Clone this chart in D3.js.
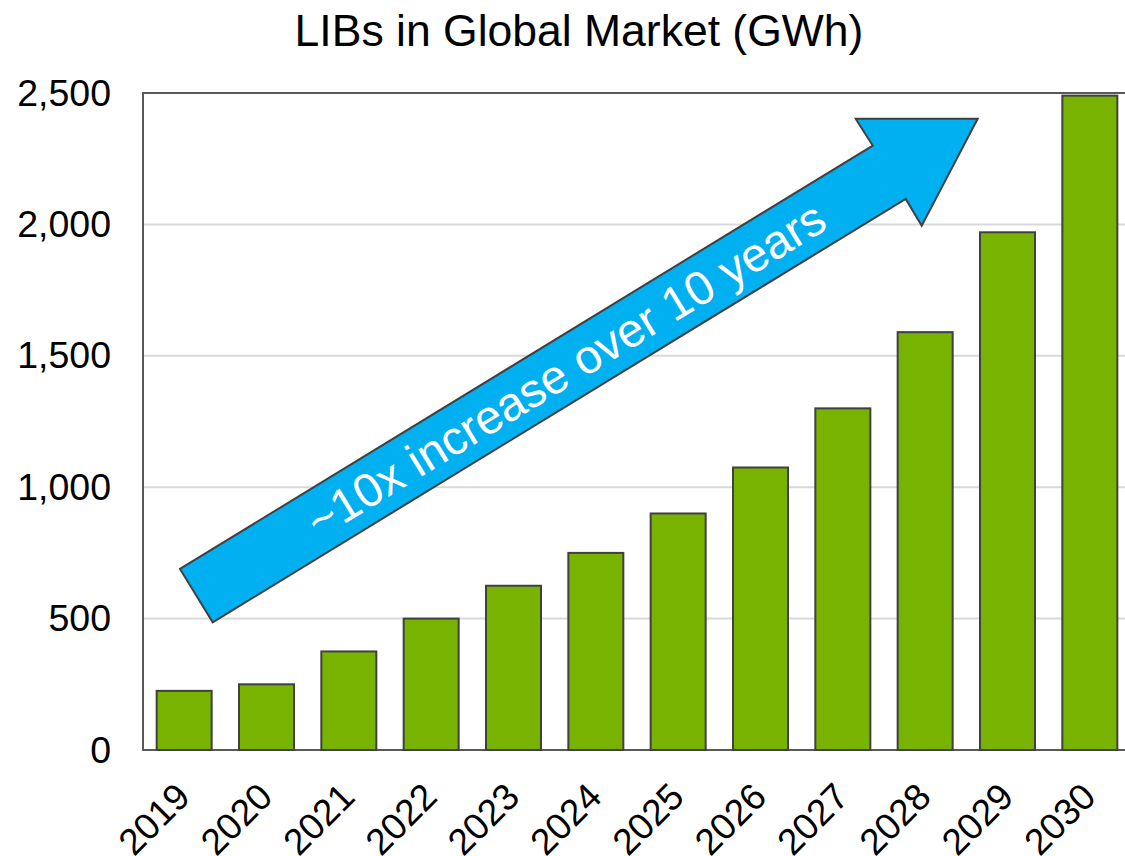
<!DOCTYPE html>
<html lang="en">
<head>
	<meta charset="UTF-8"/>
	<title>LIBs in Global Market (GWh)</title>
	<script src="https://d3js.org/d3.v7.min.js"></script>
	<style>
	body { margin: 0; background: white; }
	text { font-family: "Liberation Sans", Arial, sans-serif; }
	</style>
</head>
<body>
	<div id="chart"></div>
	<script>

	// data
	var years = ["2019", "2020", "2021", "2022", "2023", "2024",
				 "2025", "2026", "2027", "2028", "2029", "2030"];
	var gwh = [225, 250, 375, 500, 625, 750, 900, 1075, 1300, 1590, 1970, 2490];
	var yTicks = [0, 500, 1000, 1500, 2000, 2500];
	var title = "LIBs in Global Market (GWh)";
	var arrowLabel = "~10x increase over 10 years";

	// arrow outline in (category slot, GWh) units
	var arrowSlot = [0.449, 8.863, 8.656, 10.138, 9.458, 9.264, 0.847];
	var arrowGwh = [689, 2300, 2402, 2402, 1995, 2097, 486];
	var labelSlot = 5.13, labelGwh = 1450, labelAngle = -31.4;

	var w = 1125, h = 856;
	var plotLeft = 143, plotTop = 93, plotBottom = 750;
	var plotW = 988;

	var svg = d3.select("#chart")
			.append("svg")
			.attr("width", w)
			.attr("height", h);

	var xScale = d3.scaleBand()
			.domain(years)
			.range([plotLeft, plotLeft + plotW])
			.paddingInner(0.332)
			.paddingOuter(0.166);

	var slotScale = d3.scaleLinear()
			.domain([0, years.length])
			.range([plotLeft, plotLeft + plotW]);

	var yScale = d3.scaleLinear()
			.domain([0, 2500])
			.range([plotBottom, plotTop]);

	// gridlines
	svg.selectAll("line.grid")
		.data(yTicks.slice(1, -1))
		.enter()
		.append("line")
		.attr("class", "grid")
		.attr("x1", plotLeft)
		.attr("x2", plotLeft + plotW)
		.attr("y1", function(d) { return yScale(d); })
		.attr("y2", function(d) { return yScale(d); })
		.attr("stroke", "#d9d9d9")
		.attr("stroke-width", 2);

	// plot frame
	svg.append("rect")
		.attr("x", plotLeft)
		.attr("y", plotTop)
		.attr("width", plotW)
		.attr("height", plotBottom - plotTop)
		.attr("fill", "none")
		.attr("stroke", "#595959")
		.attr("stroke-width", 2);

	// bars
	svg.selectAll("rect.bar")
		.data(gwh)
		.enter()
		.append("rect")
		.attr("class", "bar")
		.attr("x", function(d, i) { return xScale(years[i]); })
		.attr("y", function(d) { return yScale(d); })
		.attr("width", xScale.bandwidth())
		.attr("height", function(d) { return plotBottom - yScale(d); })
		.attr("fill", "#77b300")
		.attr("stroke", "#404040")
		.attr("stroke-width", 2);

	// y axis
	var yAxis = svg.append("g")
		.attr("transform", "translate(" + plotLeft + ",0)")
		.call(d3.axisLeft(yScale)
			.tickValues(yTicks)
			.tickSize(0)
			.tickPadding(32)
			.tickFormat(d3.format(",")));
	yAxis.select(".domain").remove();
	yAxis.selectAll("text")
		.attr("font-size", 37.5)
		.attr("font-family", "Liberation Sans, Arial, sans-serif")
		.attr("fill", "#000");

	// x labels
	svg.selectAll("text.xlab")
		.data(years)
		.enter()
		.append("text")
		.attr("class", "xlab")
		.attr("transform", function(d) {
			var cx = xScale(d) + xScale.bandwidth() / 2 + 8;
			return "translate(" + cx + "," + (plotBottom + 49) + ") rotate(-45)";
		})
		.attr("text-anchor", "end")
		.attr("font-size", 37)
		.attr("fill", "#000")
		.text(function(d) { return d; });

	// arrow annotation
	var arrowPts = arrowSlot.map(function(s, i) {
		return [slotScale(s), yScale(arrowGwh[i])];
	});
	svg.append("path")
		.attr("d", d3.line()(arrowPts) + "Z")
		.attr("fill", "#00b0f0")
		.attr("stroke", "#404040")
		.attr("stroke-width", 2)
		.attr("stroke-linejoin", "miter");

	svg.append("text")
		.attr("transform", "translate(" + slotScale(labelSlot) + "," + yScale(labelGwh) + ") rotate(" + labelAngle + ")")
		.attr("text-anchor", "middle")
		.attr("dy", "0.36em")
		.attr("font-size", 47.5)
		.attr("fill", "white")
		.text(arrowLabel);

	// title
	svg.append("text")
		.attr("x", 579)
		.attr("y", 46)
		.attr("text-anchor", "middle")
		.attr("font-size", 44.5)
		.attr("fill", "#000")
		.text(title);

	</script>
</body>
</html>
